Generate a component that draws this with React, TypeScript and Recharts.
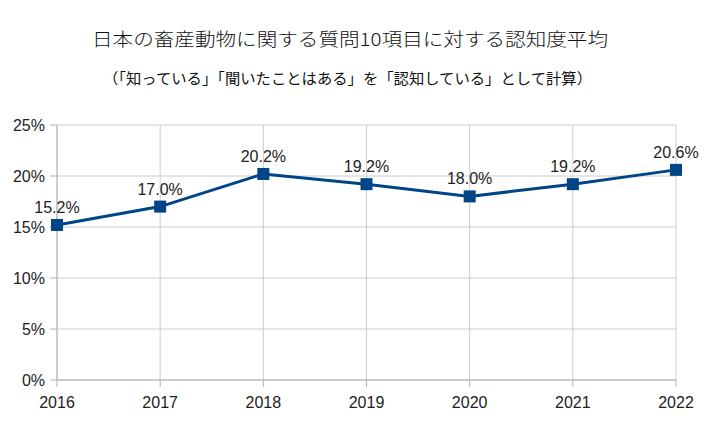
import React from 'react';
import { LineChart, Line, XAxis, YAxis, CartesianGrid, LabelList } from 'recharts';

const years = ['2016', '2017', '2018', '2019', '2020', '2021', '2022'];
const awareness = [15.2, 17.0, 20.2, 19.2, 18.0, 19.2, 20.6];
const yTicks = [0, 5, 10, 15, 20, 25];

const TITLE = '日本の畜産動物に関する質問10項目に対する認知度平均';
const SUBTITLE = '（「知っている」「聞いたことはある」を「認知している」として計算）';

const chartData = years.map((year, i) => ({ year, value: awareness[i] }));

const SquareDot = (props: any) => {
  const { cx, cy } = props;
  if (cx == null || cy == null) return null;
  return <rect x={cx - 6} y={cy - 6} width={12} height={12} fill="#004586" />;
};

const App: React.FC = () => {
  return (
    <div style={{ position: 'absolute', left: 0, top: 0, width: 720, height: 441, background: '#fff' }}>
      <svg width={720} height={110} style={{ position: 'absolute', left: 0, top: 0 }}>
        <text
          x={92}
          y={46}
          textLength={516}
          lengthAdjust="spacingAndGlyphs"
          fontFamily="'Noto Sans CJK JP', sans-serif"
          fontSize={18}
          fontWeight={300}
          fill="#111"
        >
          {TITLE}
        </text>
        <text
          x={103}
          y={84}
          textLength={489}
          lengthAdjust="spacingAndGlyphs"
          fontFamily="'Noto Sans CJK JP', sans-serif"
          fontSize={15}
          fill="#111"
        >
          {SUBTITLE}
        </text>
      </svg>
      <div style={{ position: 'absolute', left: 0, top: 0 }}>
        <LineChart
          width={720}
          height={441}
          data={chartData}
          margin={{ top: 125, right: 44, left: 0, bottom: 0 }}
          style={{ fontFamily: "'Liberation Sans', Arial, sans-serif" }}
        >
          <CartesianGrid stroke="#cccccc" />
          <XAxis
            dataKey="year"
            interval={0}
            height={61}
            tickSize={7}
            tickMargin={10}
            stroke="#b3b3b3"
            tick={{ fontSize: 16, fill: '#222' }}
          />
          <YAxis
            type="number"
            domain={[0, 25]}
            ticks={yTicks}
            width={57}
            tickSize={7}
            tickMargin={5}
            stroke="#b3b3b3"
            tickFormatter={(v) => `${v}%`}
            tick={{ fontSize: 16, fill: '#222' }}
          />
          <Line
            type="linear"
            dataKey="value"
            stroke="#004586"
            strokeWidth={3}
            dot={<SquareDot />}
            activeDot={false}
            isAnimationActive={false}
          >
            <LabelList
              dataKey="value"
              position="top"
              offset={12}
              formatter={(v: any) => `${Number(v).toFixed(1)}%`}
              style={{ fontSize: 16, fill: '#222' }}
            />
          </Line>
        </LineChart>
      </div>
    </div>
  );
};

export default App;
